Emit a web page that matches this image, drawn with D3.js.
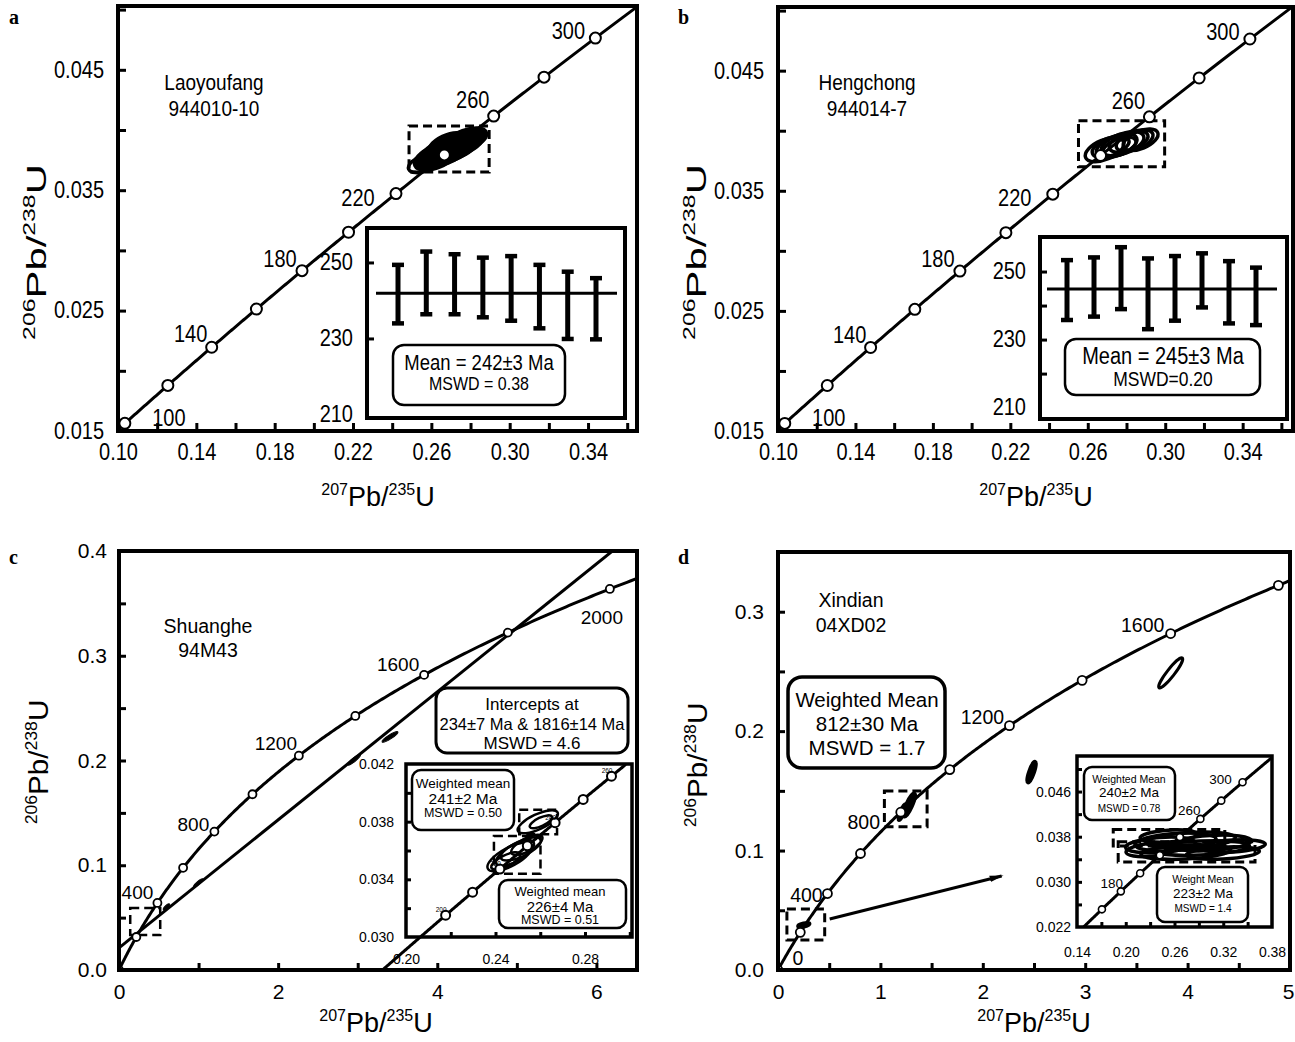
<!DOCTYPE html>
<html>
<head>
<meta charset="utf-8">
<title>U-Pb concordia diagrams</title>
<script src="https://cdn.jsdelivr.net/npm/d3@7/dist/d3.min.js"></script>
<style>
  body { margin: 0; background: #fff; }
  svg { display: block; }
</style>
</head>
<body>
<svg id="fig" width="1295" height="1042"></svg>
<script>
// decay constants, per Ma
const L238 = 1.55125e-4;
const L235 = 9.8485e-4;

// ---- a: Laoyoufang 944010-10 ----
const aXLabels = [0.10, 0.14, 0.18, 0.22, 0.26, 0.30, 0.34];
const aYLabels = [0.015, 0.025, 0.035, 0.045];
const aAges = [100, 120, 140, 160, 180, 200, 220, 240, 260, 280, 300];
const aAgeLabels = [100, 140, 180, 220, 260, 300];
const aSpotX = [0.2568, 0.2624, 0.2665, 0.2696, 0.2726, 0.2757, 0.2680, 0.2777];
const aSpotY = [0.03726, 0.03776, 0.03817, 0.03842, 0.03867, 0.03892, 0.03867, 0.03917];
const aSpotSX = [0.0085, 0.0110, 0.0120, 0.0120, 0.0115, 0.0110, 0.0100, 0.0105];
const aSpotSY = [0.0008, 0.0011, 0.0012, 0.0012, 0.0012, 0.0011, 0.0011, 0.0010];
const aSpotRho = [0.5, 0.5, 0.5, 0.5, 0.5, 0.5, 0.5, 0.5];
const aZoomX = [0.2486, 0.2895];
const aZoomY = [0.03651, 0.04033];
const aAgeLow = [234.1, 236.5, 236.5, 235.7, 234.8, 232.8, 230.0, 229.9];
const aAgeHigh = [249.5, 253.0, 252.3, 251.4, 251.8, 249.5, 247.7, 246.0];
const aMean = 242;
const aInsetLabels = [210, 230, 250];
const aInsetTicks = [230, 250];

// ---- b: Hengchong 944014-7 ----
const bXLabels = [0.10, 0.14, 0.18, 0.22, 0.26, 0.30, 0.34];
const bYLabels = [0.015, 0.025, 0.035, 0.045];
const bAges = [100, 120, 140, 160, 180, 200, 220, 240, 260, 280, 300];
const bAgeLabels = [100, 140, 180, 220, 260, 300];
const bSpotX = [0.2687, 0.2718, 0.2749, 0.2780, 0.2811, 0.2842, 0.2873, 0.2764];
const bSpotY = [0.03842, 0.03867, 0.03875, 0.03892, 0.03909, 0.03917, 0.03925, 0.03867];
const bSpotSX = [0.0100, 0.0095, 0.0105, 0.0110, 0.0100, 0.0095, 0.0090, 0.0085];
const bSpotSY = [0.0010, 0.0009, 0.0010, 0.0010, 0.0009, 0.0009, 0.0009, 0.0008];
const bSpotRho = [0.5, 0.5, 0.5, 0.5, 0.5, 0.5, 0.5, 0.5];
const bZoomX = [0.2552, 0.2997];
const bZoomY = [0.0370, 0.04083];
const bAgeLow = [235.9, 236.9, 239.1, 233.2, 235.7, 239.6, 234.9, 234.4];
const bAgeHigh = [253.5, 254.3, 257.3, 254.0, 254.7, 255.5, 253.2, 251.3];
const bMean = 245;
const bInsetLabels = [210, 230, 250];
const bInsetTicks = [220, 230, 240, 250];

// ---- c: Shuanghe 94M43 ----
const cXLabels = [0, 2, 4, 6];
const cYLabels = [0.0, 0.1, 0.2, 0.3, 0.4];
const cAges = [0, 200, 400, 600, 800, 1000, 1200, 1400, 1600, 1800, 2000];
const cAgeLabels = [400, 800, 1200, 1600, 2000];
const cIntercepts = [234, 1816];
const cSpotX = [0.995, 2.953, 3.406, 0.596];
const cSpotY = [0.0831, 0.2006, 0.2225, 0.0602];
const cSpotSX = [0.06, 0.08, 0.10, 0.04];
const cSpotSY = [0.004, 0.005, 0.005, 0.003];
const cSpotRho = [0.9, 0.9, 0.9, 0.8];
const cZoomX = [0.141, 0.518];
const cZoomY = [0.0334, 0.0592];
const cInsetXLabels = [0.20, 0.24, 0.28];
const cInsetYLabels = [0.030, 0.034, 0.038, 0.042];
const cInsetAges = [200, 210, 220, 230, 240, 250, 260];
const cInsetAgeLabels = [200, 220, 240, 260];
const cInsetSpotX = [0.2589, 0.2603, 0.2464, 0.2487, 0.2513, 0.2446, 0.2540];
const cInsetSpotY = [0.03799, 0.03799, 0.03556, 0.03583, 0.03611, 0.03528, 0.03639];
const cInsetSpotSX = [0.0090, 0.0050, 0.0100, 0.0085, 0.0090, 0.0065, 0.0070];
const cInsetSpotSY = [0.00080, 0.00045, 0.00100, 0.00090, 0.00080, 0.00060, 0.00070];
const cInsetSpotRho = [0.7, 0.7, 0.7, 0.7, 0.7, 0.7, 0.7];
const cInsetBox1X = [0.2506, 0.2675], cInsetBox1Y = [0.03713, 0.03882];
const cInsetBox2X = [0.2393, 0.2601], cInsetBox2Y = [0.03438, 0.03701];

// ---- d: Xindian 04XD02 ----
const dXLabels = [0, 1, 2, 3, 4, 5];
const dYLabels = [0.0, 0.1, 0.2, 0.3];
const dAges = [0, 200, 400, 600, 800, 1000, 1200, 1400, 1600, 1800];
const dAgeLabels = [0, 400, 800, 1200, 1600];
const dSpotX = [1.2816, 1.2136, 2.476, 3.835, 0.252];
const dSpotY = [0.1381, 0.1322, 0.1657, 0.2488, 0.0377];
const dSpotSX = [0.06, 0.04, 0.045, 0.117, 0.06];
const dSpotSY = [0.010, 0.007, 0.009, 0.0126, 0.002];
const dSpotRho = [0.8, 0.8, 0.75, 0.92, 0.5];
const dZoom1X = [1.039, 1.456], dZoom1Y = [0.1199, 0.1498];
const dZoom2X = [0.087, 0.456], dZoom2Y = [0.0251, 0.051];
const dArrowFrom = [0.505, 0.0427], dArrowTo = [2.184, 0.0787];
const dInsetXLabels = [0.14, 0.20, 0.26, 0.32, 0.38];
const dInsetYLabels = [0.022, 0.030, 0.038, 0.046];
const dInsetAges = [160, 180, 200, 220, 240, 260, 280, 300];
const dInsetAgeLabels = [180, 260, 300];
const dInsetSpotX = [0.2427, 0.2613, 0.2799, 0.2922, 0.2737, 0.3046, 0.2303, 0.3195, 0.2526, 0.3318];
const dInsetSpotY = [0.03653, 0.03706, 0.03741, 0.03599, 0.03528, 0.03688, 0.03564, 0.03510, 0.03812, 0.03635];
const dInsetSpotSX = [0.043, 0.050, 0.055, 0.060, 0.055, 0.050, 0.030, 0.045, 0.035, 0.040];
const dInsetSpotSY = [0.0014, 0.0016, 0.0014, 0.0013, 0.0013, 0.0014, 0.0012, 0.0011, 0.0011, 0.0011];
const dInsetSpotRho = [0.3, 0.3, 0.3, 0.3, 0.3, 0.3, 0.3, 0.3, 0.3, 0.3];
const dInsetBox1X = [0.1846, 0.3219], dInsetBox1Y = [0.03635, 0.03926];
const dInsetBox2X = [0.1907, 0.3591], dInsetBox2Y = [0.03350, 0.03711];

// ------------------------------------------------------------------
const svg = d3.select('#fig');
const FONT = '"Liberation Sans", Arial, Helvetica, sans-serif';
const concX = t => Math.exp(L235 * t) - 1;
const concY = t => Math.exp(L238 * t) - 1;
const defs = svg.append('defs');

let clipN = 0;
function clipRect(x0, y0, x1, y1) {
  const id = 'clip' + (clipN++);
  defs.append('clipPath').attr('id', id).append('rect')
    .attr('x', x0).attr('y', y0).attr('width', x1 - x0).attr('height', y1 - y0);
  return `url(#${id})`;
}

function txt(g, x, y, s, fs, anchor) {
  return g.append('text').attr('x', x).attr('y', y).attr('font-family', FONT)
    .attr('font-size', fs).attr('text-anchor', anchor || 'middle').attr('fill', '#000').text(s);
}

function box(g, x0, y0, x1, y1, rx, sw) {
  return g.append('rect').attr('x', x0).attr('y', y0).attr('width', x1 - x0).attr('height', y1 - y0)
    .attr('rx', rx).attr('fill', '#fff').attr('stroke', '#000').attr('stroke-width', sw);
}

function dashBox(g, X, Y, xs, ys, sw) {
  g.append('rect').attr('x', X(xs[0])).attr('y', Y(ys[1]))
    .attr('width', X(xs[1]) - X(xs[0])).attr('height', Y(ys[0]) - Y(ys[1]))
    .attr('fill', 'none').attr('stroke', '#000').attr('stroke-width', sw)
    .attr('stroke-dasharray', '9,5');
}

function frame(g, X, Y, sw) {
  const [x0, x1] = X.range(), [y0, y1] = Y.range();
  g.append('rect').attr('x', x0).attr('y', y1).attr('width', x1 - x0).attr('height', y0 - y1)
    .attr('fill', 'none').attr('stroke', '#000').attr('stroke-width', sw);
}

function concordia(g, X, Y, t0, t1, sw) {
  const ts = d3.range(0, 301).map(i => t0 + (t1 - t0) * i / 300);
  g.append('path').datum(ts)
    .attr('d', d3.line().x(t => X(concX(t))).y(t => Y(concY(t))))
    .attr('fill', 'none').attr('stroke', '#000').attr('stroke-width', sw);
}

function ageMarks(g, X, Y, ages, r, sw) {
  g.selectAll(null).data(ages).join('circle')
    .attr('cx', t => X(concX(t))).attr('cy', t => Y(concY(t))).attr('r', r)
    .attr('fill', '#fff').attr('stroke', '#000').attr('stroke-width', sw);
}

function ageLabels(g, X, Y, ages, fs, off) {
  g.selectAll(null).data(ages).join('text')
    .attr('x', t => X(concX(t)) + off[t][0])
    .attr('y', t => Y(concY(t)) + off[t][1] + fs * 0.36)
    .attr('text-anchor', 'middle').attr('font-family', FONT).attr('font-size', fs)
    .text(t => t);
}

// 2-sigma error ellipses, drawn in pixel space from the data covariance
function spots(g, X, Y, xs, ys, sxs, sys, rhos, fill, sw) {
  const kx = X(1) - X(0), ky = Y(0) - Y(1);
  const el = xs.map((x, i) => {
    const a = (sxs[i] * kx) ** 2, c = (sys[i] * ky) ** 2;
    const b = -rhos[i] * sxs[i] * kx * sys[i] * ky;
    const m = (a + c) / 2, d = Math.sqrt(((a - c) / 2) ** 2 + b * b);
    return { i, cx: X(x), cy: Y(ys[i]), rx: Math.sqrt(m + d), ry: Math.sqrt(Math.max(m - d, 0.3)),
             ang: 0.5 * Math.atan2(2 * b, a - c) * 180 / Math.PI };
  });
  g.selectAll(null).data(el).join('ellipse')
    .attr('cx', e => e.cx).attr('cy', e => e.cy).attr('rx', e => e.rx).attr('ry', e => e.ry)
    .attr('transform', e => `rotate(${e.ang},${e.cx},${e.cy})`)
    .attr('fill', e => fill(e.i)).attr('stroke', '#000').attr('stroke-width', sw);
}

function styleAxis(fs, tw) {
  return sel => {
    sel.select('.domain').remove();
    sel.selectAll('line').attr('stroke', '#000').attr('stroke-width', tw);
    sel.selectAll('text').attr('font-family', FONT).attr('font-size', fs).attr('fill', '#000');
  };
}

function axes(g, X, Y, o) {
  const [x0] = X.range(), [y0] = Y.range();
  g.append('g').attr('transform', `translate(0,${y0})`)
    .call(d3.axisBottom(X).tickValues(o.xTicks).tickSize(-o.tl).tickFormat(''))
    .call(styleAxis(o.fs, o.tw));
  const xl = g.append('g').attr('transform', `translate(0,${y0})`)
    .call(d3.axisBottom(X).tickValues(o.xLabels).tickSize(0).tickPadding(o.xPad).tickFormat(o.xFmt))
    .call(styleAxis(o.fs, o.tw));
  g.append('g').attr('transform', `translate(${x0},0)`)
    .call(d3.axisLeft(Y).tickValues(o.yTicks).tickSize(-o.tl).tickFormat(''))
    .call(styleAxis(o.fs, o.tw));
  g.append('g').attr('transform', `translate(${x0},0)`)
    .call(d3.axisLeft(Y).tickValues(o.yLabels).tickSize(0).tickPadding(o.yPad).tickFormat(o.yFmt))
    .call(styleAxis(o.fs, o.tw));
  return xl;
}

// axis title like 206Pb/238U; stretch lengthens it along the reading direction
function isoTitle(g, x, y, m1, m2, rotate, stretch) {
  const t = g.append('text')
    .attr('transform', `translate(${x},${y})` + (rotate ? ' rotate(-90)' : '') + ` scale(${stretch || 1},1)`)
    .attr('text-anchor', 'middle').attr('font-family', FONT).attr('fill', '#000');
  t.append('tspan').attr('font-size', 16).attr('dy', -11).text(m1);
  t.append('tspan').attr('font-size', 27).attr('dy', 11).text('Pb/');
  t.append('tspan').attr('font-size', 16).attr('dy', -11).text(m2);
  t.append('tspan').attr('font-size', 27).attr('dy', 11).text('U');
}

// the top row of the original figure is drawn with taller lettering
function tallText(g, k) {
  g.selectAll('text').filter(function () { return !this.getAttribute('transform'); })
    .attr('transform', function () {
      const y = +this.getAttribute('y') || 0;
      return `matrix(1,0,0,${k},0,${-y * (k - 1)})`;
    });
}

function panelLetter(x, y, s) {
  svg.append('text').attr('x', x).attr('y', y)
    .attr('font-family', '"Liberation Serif", "Times New Roman", serif')
    .attr('font-weight', 'bold').attr('font-size', 20).text(s);
}

const range = (a, b, s) => d3.range(Math.round((b - a) / s) + 1).map(i => +(a + i * s).toFixed(6));

// label offsets from the concordia age marks (layout only)
const OFF_TOP = {100: [44, -5], 140: [-21, -12], 180: [-22, -11], 220: [-38, 5], 260: [-21, -15], 300: [-27, -6]};
const OFF_C = {400: [-20, -11], 800: [-21, -7], 1200: [-23, -13], 1600: [-26, -11], 2000: [-8, 28]};
const OFF_D = {0: [20, -12], 400: [-21, 1], 800: [-37, 10], 1200: [-27, -9], 1600: [-28, -9]};
const OFF_DI = {180: [-9, -8], 260: [-11, -9], 300: [-22, -3]};

// ---------------- panels a and b ----------------
function drawTop(p) {
  const g = svg.append('g');
  const X = d3.scaleLinear().domain(p.xDom).range(p.xRange);
  const Y = d3.scaleLinear().domain([0.015, 0.0503]).range(p.yRange);
  const inner = g.append('g').attr('clip-path', clipRect(p.xRange[0], p.yRange[1], p.xRange[1], p.yRange[0]));
  concordia(inner, X, Y, 90, 320, 3);
  dashBox(inner, X, Y, p.zoomX, p.zoomY, 3);
  spots(inner, X, Y, p.spotX, p.spotY, p.spotSX, p.spotSY, p.spotRho, p.fill, p.sw);
  ageMarks(inner, X, Y, p.ages, 5.5, 2);
  ageLabels(g, X, Y, p.ageLabels, 20, OFF_TOP);
  txt(g, p.nameX, 90, p.name, 19);
  txt(g, p.nameX, 116, p.sample, 19);

  // inset: 206Pb/238U ages of the spots
  const ins = p.inset;
  const IY = d3.scaleLinear().domain(ins.dom).range([ins.y1, ins.y0]);
  const P = d3.scalePoint().domain(d3.range(p.low.length)).range(ins.bars);
  box(g, ins.x0, ins.y0, ins.x1, ins.y1, 0, 4);
  g.append('line').attr('x1', ins.line[0]).attr('x2', ins.line[1])
    .attr('y1', IY(p.mean)).attr('y2', IY(p.mean)).attr('stroke', '#000').attr('stroke-width', 3);
  const bars = g.append('g').attr('stroke', '#000');
  bars.selectAll(null).data(p.low).join('line')
    .attr('x1', (d, i) => P(i)).attr('x2', (d, i) => P(i))
    .attr('y1', d => IY(d)).attr('y2', (d, i) => IY(p.high[i])).attr('stroke-width', 5);
  [p.low, p.high].forEach(arr => {
    bars.selectAll(null).data(arr).join('line')
      .attr('x1', (d, i) => P(i) - 6).attr('x2', (d, i) => P(i) + 6)
      .attr('y1', d => IY(d)).attr('y2', d => IY(d)).attr('stroke-width', 4.5);
  });
  g.selectAll(null).data(p.insetTicks).join('line')
    .attr('x1', ins.x0).attr('x2', ins.x0 + 7).attr('y1', d => IY(d)).attr('y2', d => IY(d))
    .attr('stroke', '#000').attr('stroke-width', 3);
  g.selectAll(null).data(p.insetLabels).join('text')
    .attr('x', ins.x0 - 14).attr('y', d => IY(d) + 7).attr('text-anchor', 'end')
    .attr('font-family', FONT).attr('font-size', 20).text(d => d);
  box(g, ins.mbox[0], ins.mbox[1], ins.mbox[2], ins.mbox[3], 11, 2.5);
  txt(g, ins.t1[0], ins.t1[1], p.meanText, ins.t1[2]);
  txt(g, ins.t2[0], ins.t2[1], p.mswdText, ins.t2[2]);

  axes(g, X, Y, {
    xTicks: range(0.12, 0.36, 0.02), xLabels: p.xLabels, xFmt: d3.format('.2f'), xPad: 13,
    yTicks: range(0.020, 0.050, 0.005), yLabels: p.yLabels, yFmt: d3.format('.3f'), yPad: 14,
    tl: 8, tw: 3, fs: 20
  });
  tallText(g, 1.15);
  frame(g, X, Y, 4);
  isoTitle(g, p.xTitle[0], p.xTitle[1], '207', '235', false, 1);
  isoTitle(g, p.yTitle[0], p.yTitle[1], '206', '238', true, 1.55);
}

drawTop({
  xDom: [0.10, 0.365], xRange: [118, 637], yRange: [431, 6],
  xLabels: aXLabels, yLabels: aYLabels, ages: aAges, ageLabels: aAgeLabels,
  spotX: aSpotX, spotY: aSpotY, spotSX: aSpotSX, spotSY: aSpotSY, spotRho: aSpotRho,
  fill: i => (i === 0 ? 'none' : '#000'), sw: 3.5,
  zoomX: aZoomX, zoomY: aZoomY, nameX: 214, name: 'Laoyoufang', sample: '944010-10',
  low: aAgeLow, high: aAgeHigh, mean: aMean, insetLabels: aInsetLabels, insetTicks: aInsetTicks,
  meanText: 'Mean = 242±3 Ma', mswdText: 'MSWD = 0.38',
  inset: { x0: 367, y0: 228, x1: 625, y1: 418, dom: [209.2, 259.2], bars: [398, 596], line: [376, 617],
           mbox: [393, 345, 565, 405], t1: [479, 370, 18.5], t2: [479, 390, 16] },
  xTitle: [378, 506], yTitle: [46, 252]
});

drawTop({
  xDom: [0.10, 0.366], xRange: [778, 1293], yRange: [431, 7],
  xLabels: bXLabels, yLabels: bYLabels, ages: bAges, ageLabels: bAgeLabels,
  spotX: bSpotX, spotY: bSpotY, spotSX: bSpotSX, spotSY: bSpotSY, spotRho: bSpotRho,
  fill: () => 'none', sw: 3.5,
  zoomX: bZoomX, zoomY: bZoomY, nameX: 867, name: 'Hengchong', sample: '944014-7',
  low: bAgeLow, high: bAgeHigh, mean: bMean, insetLabels: bInsetLabels, insetTicks: bInsetTicks,
  meanText: 'Mean = 245±3 Ma', mswdText: 'MSWD=0.20',
  inset: { x0: 1040, y0: 237, x1: 1287, y1: 419, dom: [206.8, 260.3], bars: [1067, 1256], line: [1047, 1277],
           mbox: [1065, 339, 1260, 395], t1: [1163, 364, 20], t2: [1163, 386, 17.5] },
  xTitle: [1036, 506], yTitle: [706, 252]
});

// ---------------- panel c ----------------
{
  const g = svg.append('g');
  const X = d3.scaleLinear().domain([0, 6.51]).range([119, 637]);
  const Y = d3.scaleLinear().domain([0, 0.4]).range([970, 551]);
  const mainClip = clipRect(119, 551, 637, 970);
  const inner = g.append('g').attr('clip-path', mainClip);
  concordia(inner, X, Y, 0, 2100, 3);
  const [tl, tu] = cIntercepts;
  const slope = (concY(tu) - concY(tl)) / (concX(tu) - concX(tl));
  const yAt = x => concY(tl) + slope * (x - concX(tl));
  inner.append('line').attr('x1', X(0)).attr('y1', Y(yAt(0))).attr('x2', X(6.51)).attr('y2', Y(yAt(6.51)))
    .attr('stroke', '#000').attr('stroke-width', 3);
  dashBox(inner, X, Y, cZoomX, cZoomY, 2.5);
  spots(inner, X, Y, cSpotX, cSpotY, cSpotSX, cSpotSY, cSpotRho, () => '#000', 1);
  ageMarks(inner, X, Y, cAges, 4, 1.8);
  ageLabels(g, X, Y, cAgeLabels, 19, OFF_C);
  txt(g, 208, 633, 'Shuanghe', 19.5);
  txt(g, 208, 657, '94M43', 19.5);

  box(g, 436, 688, 628, 753, 11, 3);
  txt(g, 532, 710, 'Intercepts at', 17);
  txt(g, 532, 730, '234±7 Ma & 1816±14 Ma', 16.5);
  txt(g, 532, 749, 'MSWD = 4.6', 17);

  // inset: close-up of the young spots
  const IX = d3.scaleLinear().domain([0.20, 0.301]).range([406, 632]);
  const IY = d3.scaleLinear().domain([0.030, 0.042]).range([937, 764]);
  box(g, 405, 764, 632, 937, 0, 0);
  const lower = g.append('g').attr('clip-path', mainClip);
  concordia(lower, IX, IY, 176, 265, 3);
  const ig = g.append('g').attr('clip-path', clipRect(405, 764, 632, 937));
  dashBox(ig, IX, IY, cInsetBox1X, cInsetBox1Y, 2.5);
  dashBox(ig, IX, IY, cInsetBox2X, cInsetBox2Y, 2.5);
  spots(ig, IX, IY, cInsetSpotX, cInsetSpotY, cInsetSpotSX, cInsetSpotSY, cInsetSpotRho, () => 'none', 2.5);
  ageMarks(ig, IX, IY, cInsetAges, 4.5, 2);
  ig.selectAll(null).data(cInsetAgeLabels).join('text')
    .attr('x', t => IX(concX(t)) + 1).attr('y', t => IY(concY(t)) - 3)
    .attr('text-anchor', 'end').attr('font-family', FONT).attr('font-size', 6.5).text(t => t);
  box(g, 412, 770, 514, 830, 9, 2.5);
  txt(g, 463, 788, 'Weighted mean', 13.5);
  txt(g, 463, 804, '241±2 Ma', 15.5);
  txt(g, 463, 817, 'MSWD = 0.50', 12.5);
  box(g, 499, 880, 626, 928, 9, 2.5);
  txt(g, 560, 896, 'Weighted mean', 13);
  txt(g, 560, 912, '226±4 Ma', 15);
  txt(g, 560, 924, 'MSWD = 0.51', 12.5);
  axes(g, IX, IY, {
    xTicks: range(0.22, 0.30, 0.02), xLabels: cInsetXLabels, xFmt: d3.format('.2f'), xPad: 17,
    yTicks: range(0.032, 0.040, 0.002), yLabels: cInsetYLabels, yFmt: d3.format('.3f'), yPad: 12,
    tl: 5, tw: 3, fs: 14
  });
  frame(g, IX, IY, 3.5);

  axes(g, X, Y, {
    xTicks: range(1, 6, 1), xLabels: cXLabels, xFmt: d3.format('d'), xPad: 14,
    yTicks: range(0.05, 0.35, 0.05), yLabels: cYLabels, yFmt: d3.format('.1f'), yPad: 12,
    tl: 7, tw: 3, fs: 21
  });
  frame(g, X, Y, 4);
  isoTitle(g, 376, 1032, '207', '235', false, 1);
  isoTitle(g, 48, 762, '206', '238', true, 1.1);
}

// ---------------- panel d ----------------
{
  const g = svg.append('g');
  const X = d3.scaleLinear().domain([0, 5]).range([778, 1290]);
  const Y = d3.scaleLinear().domain([0, 0.35]).range([970, 552]);
  const inner = g.append('g').attr('clip-path', clipRect(778, 552, 1290, 970));
  concordia(inner, X, Y, 0, 1900, 3);
  dashBox(inner, X, Y, dZoom1X, dZoom1Y, 3);
  dashBox(inner, X, Y, dZoom2X, dZoom2Y, 3);
  spots(inner, X, Y, dSpotX, dSpotY, dSpotSX, dSpotSY, dSpotRho, i => (i === 3 ? 'none' : '#000'), 3);
  ageMarks(inner, X, Y, dAges, 4.5, 1.8);
  ageLabels(g, X, Y, dAgeLabels, 19.5, OFF_D);

  defs.append('marker').attr('id', 'arrow').attr('viewBox', '0 0 14 8')
    .attr('refX', 12).attr('refY', 4).attr('markerWidth', 14).attr('markerHeight', 8)
    .attr('markerUnits', 'userSpaceOnUse').attr('orient', 'auto')
    .append('path').attr('d', 'M0,0.8 L14,4 L0,7.2 Z').attr('fill', '#000');
  g.append('line').attr('x1', X(dArrowFrom[0])).attr('y1', Y(dArrowFrom[1]))
    .attr('x2', X(dArrowTo[0])).attr('y2', Y(dArrowTo[1]))
    .attr('stroke', '#000').attr('stroke-width', 3).attr('marker-end', 'url(#arrow)');

  txt(g, 851, 607, 'Xindian', 19.5);
  txt(g, 851, 632, '04XD02', 19.5);
  box(g, 788, 677, 945, 768, 14, 3.5);
  txt(g, 867, 707, 'Weighted Mean', 20.5);
  txt(g, 867, 731, '812±30 Ma', 20.5);
  txt(g, 867, 755, 'MSWD = 1.7', 20.5);

  // inset: close-up of the Triassic spots
  const IX = d3.scaleLinear().domain([0.14, 0.38]).range([1077, 1272]);
  const IY = d3.scaleLinear().domain([0.022, 0.0523]).range([927, 756]);
  box(g, 1076, 756, 1272, 927, 0, 0);
  const ig = g.append('g').attr('clip-path', clipRect(1076, 756, 1272, 927));
  concordia(ig, IX, IY, 138, 332, 3);
  dashBox(ig, IX, IY, dInsetBox1X, dInsetBox1Y, 3);
  dashBox(ig, IX, IY, dInsetBox2X, dInsetBox2Y, 3);
  spots(ig, IX, IY, dInsetSpotX, dInsetSpotY, dInsetSpotSX, dInsetSpotSY, dInsetSpotRho, () => 'none', 3.5);
  ageMarks(ig, IX, IY, dInsetAges, 3.5, 1.6);
  ageLabels(g, IX, IY, dInsetAgeLabels, 13.5, OFF_DI);
  box(g, 1084, 767, 1175, 820, 8, 2.5);
  txt(g, 1129, 783, 'Weighted Mean', 10.5);
  txt(g, 1129, 797, '240±2 Ma', 13.5);
  txt(g, 1129, 812, 'MSWD = 0.78', 10);
  box(g, 1157, 867, 1248, 922, 8, 2.5);
  txt(g, 1203, 883, 'Weight Mean', 10.5);
  txt(g, 1203, 898, '223±2 Ma', 13.5);
  txt(g, 1203, 912, 'MSWD = 1.4', 10);
  axes(g, IX, IY, {
    xTicks: range(0.17, 0.35, 0.03), xLabels: dInsetXLabels, xFmt: d3.format('.2f'), xPad: 20,
    yTicks: range(0.026, 0.050, 0.004), yLabels: dInsetYLabels, yFmt: d3.format('.3f'), yPad: 6,
    tl: 5, tw: 3, fs: 14
  });
  frame(g, IX, IY, 3.5);

  const xl = axes(g, X, Y, {
    xTicks: range(0.5, 4.5, 0.5), xLabels: dXLabels, xFmt: d3.format('d'), xPad: 14,
    yTicks: range(0.05, 0.30, 0.05), yLabels: dYLabels, yFmt: d3.format('.1f'), yPad: 14,
    tl: 7, tw: 3, fs: 21
  });
  // keep the last label inside the page
  xl.selectAll('text').filter(d => d === 5).attr('text-anchor', 'end').attr('dx', 4);
  frame(g, X, Y, 4);
  isoTitle(g, 1034, 1032, '207', '235', false, 1);
  isoTitle(g, 707, 765, '206', '238', true, 1.1);
}

panelLetter(9, 24, 'a');
panelLetter(678, 24, 'b');
panelLetter(9, 564, 'c');
panelLetter(678, 564, 'd');
</script>
</body>
</html>
